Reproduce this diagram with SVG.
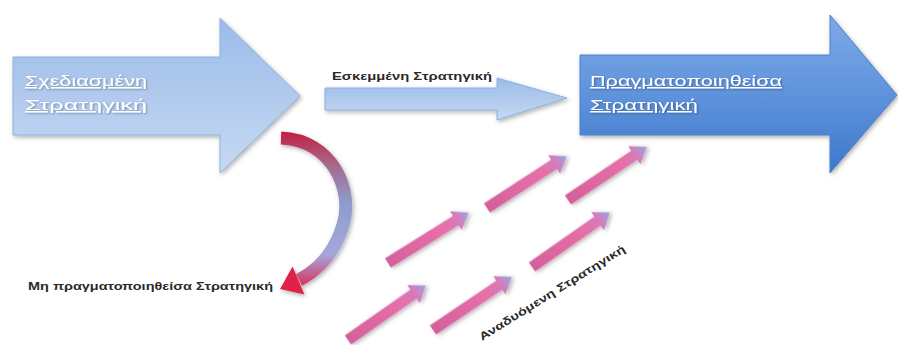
<svg xmlns="http://www.w3.org/2000/svg" xmlns:xlink="http://www.w3.org/1999/xlink" width="898" height="345" viewBox="0 0 898 345">
<defs>
<linearGradient id="gLight" x1="0" y1="0" x2="0" y2="1">
<stop offset="0" stop-color="#9bbbe8"/>
<stop offset="1" stop-color="#c6d9f3"/>
</linearGradient>
<linearGradient id="gDark" x1="0" y1="0" x2="0" y2="1">
<stop offset="0" stop-color="#7eaae6"/>
<stop offset="0.5" stop-color="#5f93dc"/>
<stop offset="1" stop-color="#3d78cc"/>
</linearGradient>
<linearGradient id="gCurve" gradientUnits="userSpaceOnUse" x1="0" y1="130" x2="0" y2="290">
<stop offset="0" stop-color="#c41a3c"/>
<stop offset="0.2" stop-color="#a86486"/>
<stop offset="0.45" stop-color="#8d9cca"/>
<stop offset="0.78" stop-color="#a6a6dc"/>
<stop offset="1" stop-color="#e0204a"/>
</linearGradient>
<linearGradient id="gPink" x1="0" y1="0" x2="1" y2="0">
<stop offset="0" stop-color="#d4609a"/>
<stop offset="0.7" stop-color="#e670aa"/>
<stop offset="0.85" stop-color="#d87ab8"/>
<stop offset="1" stop-color="#9ca2e0"/>
</linearGradient>
<filter id="sh" x="-10%" y="-10%" width="130%" height="130%">
<feDropShadow dx="1.5" dy="2" stdDeviation="2" flood-color="#000" flood-opacity="0.3"/>
</filter>
<filter id="tsh" x="-10%" y="-30%" width="130%" height="160%">
<feDropShadow dx="1" dy="1" stdDeviation="0.8" flood-color="#000" flood-opacity="0.35"/>
</filter>
<g id="pa">
<path d="M0,-5.5 H80 V-11 L95,0 L80,11 V5.5 H0 Z" fill="url(#gPink)" filter="url(#sh)"/>
</g>
<style>
.big{font-family:"Liberation Sans",Arial,sans-serif;font-size:15px;fill:#fff;text-decoration:underline;}
.lbl{font-family:"Liberation Sans",Arial,sans-serif;font-size:11px;font-weight:bold;fill:#2a2a2a;}
</style>
</defs>
<rect width="898" height="345" fill="#fff"/>

<g id="planned">
<path d="M13,57 H220 V18 L300,96 L220,173 V135 H13 Z" fill="url(#gLight)" stroke="#8fb0dc" stroke-width="1" filter="url(#sh)"/>
<text class="big" x="25" y="86" textLength="122" lengthAdjust="spacingAndGlyphs" filter="url(#tsh)">Σχεδιασμένη</text>
<text class="big" x="25" y="110" textLength="122" lengthAdjust="spacingAndGlyphs" filter="url(#tsh)">Στρατηγική</text>
</g>

<g id="realized">
<path d="M580,55 H830 V15 L897,95 L830,173 V135 H580 Z" fill="url(#gDark)" stroke="#4a80cc" stroke-width="1" filter="url(#sh)"/>
<text class="big" x="590" y="86" textLength="192" lengthAdjust="spacingAndGlyphs" filter="url(#tsh)">Πραγματοποιηθείσα</text>
<text class="big" x="590" y="110" textLength="108" lengthAdjust="spacingAndGlyphs" filter="url(#tsh)">Στρατηγική</text>
</g>

<g id="unrealized-label">
<text class="lbl" x="28" y="290" textLength="245" lengthAdjust="spacingAndGlyphs">Μη πραγματοποιηθείσα Στρατηγική</text>
</g>

<g id="connectors">
<g id="deliberate">
<path d="M325,88 H497 V78 L567,98 L497,120 V110 H325 Z" fill="url(#gLight)" stroke="#8fb0dc" stroke-width="1" filter="url(#sh)"/>
<text class="lbl" x="332" y="80" textLength="160" lengthAdjust="spacingAndGlyphs">Εσκεμμένη Στρατηγική</text>
</g>
<g id="unrealized" filter="url(#sh)">
<path d="M281,138 C332,140 354,190 343,225 C335,252 318,270 299,280" fill="none" stroke="url(#gCurve)" stroke-width="13"/>
<polygon points="280,289 292.6,266.6 304.4,294.4" fill="#e0244a"/>
</g>
<g id="emergent">
<use xlink:href="#pa" transform="translate(388,263) rotate(-32)"/>
<use xlink:href="#pa" transform="translate(487,208) rotate(-33)"/>
<use xlink:href="#pa" transform="translate(568,200) rotate(-34)"/>
<use xlink:href="#pa" transform="translate(532,267) rotate(-35)"/>
<use xlink:href="#pa" transform="translate(348,340) rotate(-35)"/>
<use xlink:href="#pa" transform="translate(433,330) rotate(-34)"/>
<text class="lbl" transform="translate(482,341) rotate(-32)" textLength="170" lengthAdjust="spacingAndGlyphs">Αναδυόμενη Στρατηγική</text>
</g>
</g>
</svg>
